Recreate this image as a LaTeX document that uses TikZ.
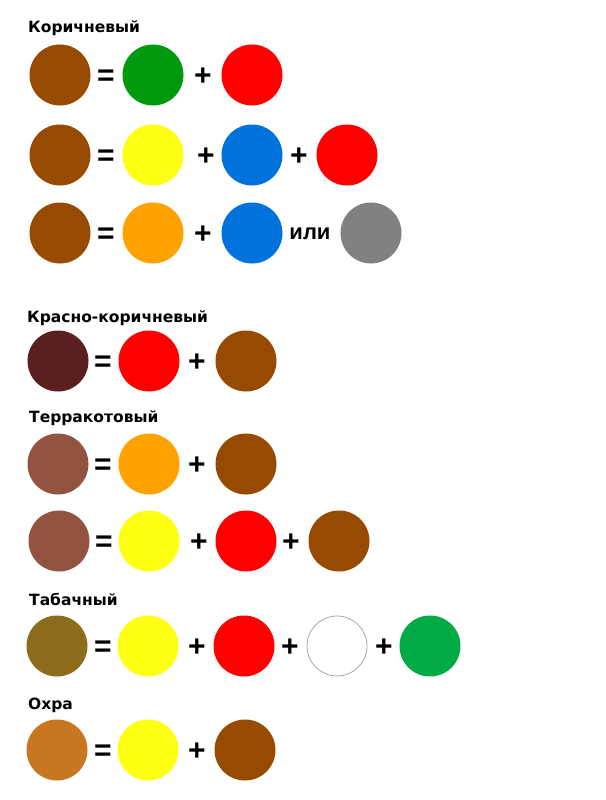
\documentclass[tikz,border=0pt]{standalone}
\usepackage{fontspec}
\setmainfont{Liberation Sans}
\newfontfamily\ttlfont{DejaVu Sans}
\definecolor{cbrown}{HTML}{964B00}
\definecolor{cgreenA}{HTML}{009A0E}
\definecolor{cred}{HTML}{FF0000}
\definecolor{cyellow}{HTML}{FFFF14}
\definecolor{cblue}{HTML}{0072DC}
\definecolor{corange}{HTML}{FFA200}
\definecolor{cgray}{HTML}{818181}
\definecolor{cdark}{HTML}{5C1F1F}
\definecolor{cterra}{HTML}{925440}
\definecolor{ctobacco}{HTML}{8D6D1B}
\definecolor{cgreenB}{HTML}{00AA44}
\definecolor{cochre}{HTML}{C8761F}
\begin{document}
\begin{tikzpicture}[x=1pt,y=-1pt,
  dot/.style={circle,minimum size=61pt,inner sep=0pt,fill=#1},
  sgn/.style={inner sep=0pt,anchor=base,yshift=-10.5pt,font=\fontsize{30}{30}\selectfont\bfseries},
  ttl/.style={anchor=base west,inner sep=0pt,font=\ttlfont\fontsize{15.5}{15.5}\selectfont\bfseries},
  orw/.style={inner sep=0pt,anchor=base,font=\fontsize{22}{22}\selectfont\bfseries}]
\useasboundingbox[fill=white] (0,0) rectangle (605,800);
% Section 1
\node[ttl] (t1) at (28,33) {Коричневый};
\node[dot=cbrown]  (a1) at (60,75) {};
\node[sgn]         (a1e) at (106,75) {=};
\node[dot=cgreenA] (a2) at (153,75) {};
\node[sgn]         (a2p) at (203,75) {+};
\node[dot=cred]    (a3) at (252,75) {};
\node[dot=cbrown]  (b1) at (60,155) {};
\node[sgn]         (b1e) at (106,155) {=};
\node[dot=cyellow] (b2) at (153,155) {};
\node[sgn]         (b2p) at (206,155) {+};
\node[dot=cblue]   (b3) at (252,155) {};
\node[sgn]         (b3p) at (299,155) {+};
\node[dot=cred]    (b4) at (347,155) {};
\node[dot=cbrown]  (c1) at (60,233) {};
\node[sgn]         (c1e) at (106,233) {=};
\node[dot=corange] (c2) at (153,233) {};
\node[sgn]         (c2p) at (203,233) {+};
\node[dot=cblue]   (c3) at (252,233) {};
\node[orw]         (c3o) at (310,239) {или};
\node[dot=cgray]   (c4) at (371,233) {};
% Section 2
\node[ttl] (t2) at (27,322) {Красно-коричневый};
\node[dot=cdark]   (d1) at (58,361) {};
\node[sgn]         (d1e) at (103,361) {=};
\node[dot=cred]    (d2) at (149,361) {};
\node[sgn]         (d2p) at (197,361) {+};
\node[dot=cbrown]  (d3) at (246,361) {};
% Section 3
\node[ttl] (t3) at (29,422) {Терракотовый};
\node[dot=cterra]  (e1) at (58,464) {};
\node[sgn]         (e1e) at (103,464) {=};
\node[dot=corange] (e2) at (149,464) {};
\node[sgn]         (e2p) at (197,464) {+};
\node[dot=cbrown]  (e3) at (246,464) {};
\node[dot=cterra]  (f1) at (59,541) {};
\node[sgn]         (f1e) at (104,541) {=};
\node[dot=cyellow] (f2) at (149,541) {};
\node[sgn]         (f2p) at (199,541) {+};
\node[dot=cred]    (f3) at (246,541) {};
\node[sgn]         (f3p) at (291,541) {+};
\node[dot=cbrown]  (f4) at (339,541) {};
% Section 4
\node[ttl] (t4) at (29,605) {Табачный};
\node[dot=ctobacco] (g1) at (57,646) {};
\node[sgn]          (g1e) at (103,646) {=};
\node[dot=cyellow]  (g2) at (148,646) {};
\node[sgn]          (g2p) at (197,646) {+};
\node[dot=cred]     (g3) at (244,646) {};
\node[sgn]          (g3p) at (290,646) {+};
\node[circle,minimum size=60pt,inner sep=0pt,draw=gray!70,line width=0.8pt,fill=white] (g4) at (337,646) {};
\node[sgn]          (g4p) at (384,646) {+};
\node[dot=cgreenB]  (g5) at (430,646) {};
% Section 5
\node[ttl] (t5) at (28,709) {Охра};
\node[dot=cochre]   (h1) at (57,750) {};
\node[sgn]          (h1e) at (103,750) {=};
\node[dot=cyellow]  (h2) at (148,750) {};
\node[sgn]          (h2p) at (197,750) {+};
\node[dot=cbrown]   (h3) at (245,750) {};
\end{tikzpicture}
\end{document}
